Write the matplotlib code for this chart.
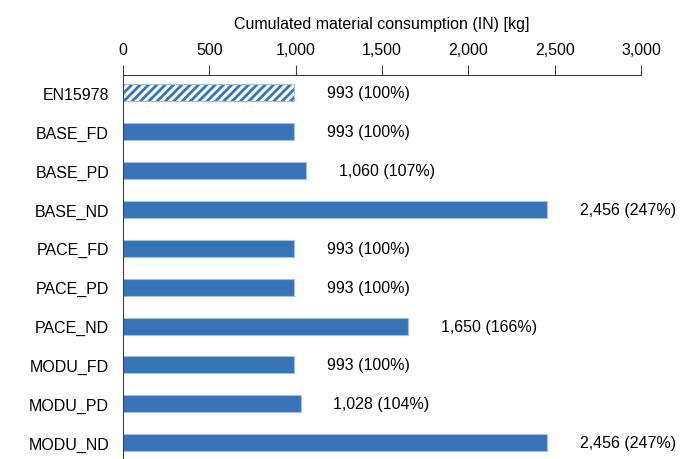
import matplotlib.pyplot as plt
from matplotlib.ticker import FuncFormatter

plt.rcParams['font.family'] = ['Liberation Sans', 'DejaVu Sans']
plt.rcParams['hatch.linewidth'] = 2.0

scenarios = ['EN15978', 'BASE_FD', 'BASE_PD', 'BASE_ND', 'PACE_FD', 'PACE_PD',
             'PACE_ND', 'MODU_FD', 'MODU_PD', 'MODU_ND']
consumption = [993, 993, 1060, 2456, 993, 993, 1650, 993, 1028, 2456]
share = [100, 100, 107, 247, 100, 100, 166, 100, 104, 247]

blue = '#3873b8'
light = '#9dc3e6'

fig = plt.figure(figsize=(6.9, 4.6), dpi=100)
ax = fig.add_axes([123 / 690, 0, 518 / 690, (460 - 76) / 460])

for i, (name, val) in enumerate(zip(scenarios, consumption)):
    if i == 0:
        # reference standard: white bar with blue diagonal stripes
        ax.barh(i, val, height=0.44, color='white', edgecolor=blue,
                linewidth=0, hatch='////')
        ax.barh(i, val, height=0.44, color='none', edgecolor=light, linewidth=0.8)
    else:
        ax.barh(i, val, height=0.44, color=blue, edgecolor=light, linewidth=0.8)
    ax.text(val + 190, i, f'{val:,} ({share[i]}%)', va='center', ha='left', fontsize=11.5)

ax.set_xlim(0, 3000)
ax.set_ylim(9.42, -0.46)
ax.set_yticks(range(len(scenarios)))
ax.set_yticklabels(scenarios, fontsize=11.5)
ax.set_xticks(range(0, 3001, 500))
ax.xaxis.set_major_formatter(FuncFormatter(lambda v, p: f'{int(v):,}'))
ax.xaxis.tick_top()
ax.xaxis.set_label_position('top')
ax.set_xlabel('Cumulated material consumption (IN) [kg]', fontsize=11.5, labelpad=10)
ax.tick_params(axis='x', direction='out', length=7, width=0.8, color='#404040',
               labelsize=11.5, pad=6)
ax.tick_params(axis='y', length=0, pad=10)

for s in ['right', 'bottom']:
    ax.spines[s].set_visible(False)
ax.spines['top'].set_color('#404040')
ax.spines['left'].set_color('#404040')
ax.spines['top'].set_linewidth(0.8)
ax.spines['left'].set_linewidth(0.8)

fig.savefig('out.png', dpi=100)
